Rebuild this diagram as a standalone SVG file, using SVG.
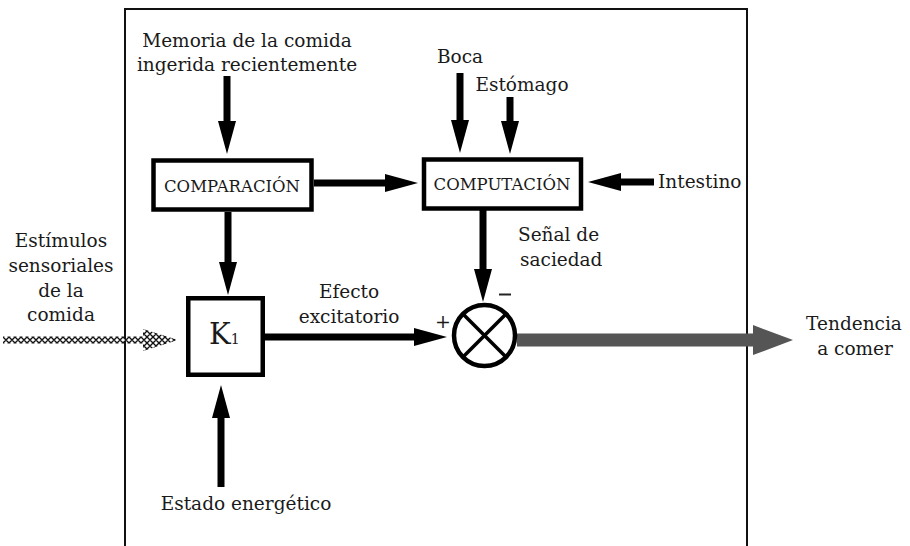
<svg xmlns="http://www.w3.org/2000/svg" width="910" height="546" viewBox="0 0 910 546">
<style>
text{font-family:"DejaVu Serif","Liberation Serif",serif;fill:#1a1a1a;font-size:18.5px}
.c{text-anchor:middle}
.box{fill:#fff;stroke:#000;stroke-width:4.5}
.caps{font-size:16.5px}
.arr{stroke:#000;stroke-width:7;fill:none;marker-end:url(#ah)}
</style>
<defs>
<marker id="ah" markerUnits="userSpaceOnUse" markerWidth="40" markerHeight="24" refX="0" refY="0" orient="auto" overflow="visible">
<path d="M0,-9 L33,0 L0,9 z" fill="#000"/>
</marker>
<marker id="gh" markerUnits="userSpaceOnUse" markerWidth="44" markerHeight="34" refX="0" refY="0" orient="auto" overflow="visible">
<path d="M0,-15 L40,0 L0,15 z" fill="#555"/>
</marker>
<pattern id="dia" patternUnits="userSpaceOnUse" x="0" y="337" width="6" height="6">
<path d="M3,0 L6,3 L3,6 L0,3 z" fill="#fff" stroke="#111" stroke-width="1.4"/>
</pattern>
</defs>
<rect x="0" y="0" width="910" height="546" fill="#fff"/>
<rect id="frame" x="125" y="9" width="622" height="570" fill="none" stroke="#111" stroke-width="2"/>

<g id="connectors">
<line class="arr" x1="227" y1="76" x2="227" y2="121"/>
<line class="arr" x1="460" y1="73" x2="460" y2="120"/>
<line class="arr" x1="510" y1="97" x2="510" y2="121"/>
<line class="arr" x1="314" y1="183" x2="385" y2="183"/>
<line class="arr" x1="654" y1="182" x2="621" y2="182"/>
<line class="arr" x1="228" y1="212" x2="228" y2="262"/>
<line class="arr" x1="483" y1="210" x2="483" y2="269"/>
<line class="arr" x1="265" y1="337" x2="414" y2="337"/>
<line class="arr" x1="221" y1="487" x2="221" y2="418"/>
<line x1="517" y1="340" x2="753" y2="340" stroke="#555" stroke-width="13" marker-end="url(#gh)"/>
<path d="M3,336.5 L143,336.5 L143,329 L178,340 L143,351 L143,343.5 L3,343.5 z" fill="url(#dia)"/>
</g>

<g id="memoria">
<text class="c" x="247" y="47">Memoria de la comida</text>
<text class="c" x="247" y="71">ingerida recientemente</text>
</g>
<g id="boca"><text class="c" x="460" y="63">Boca</text></g>
<g id="estomago"><text class="c" x="522" y="91">Estómago</text></g>
<g id="intestino"><text x="658" y="188">Intestino</text></g>

<g id="comparacion">
<rect class="box" x="153.5" y="160.5" width="158" height="49" stroke-width="5"/>
<text class="c caps" x="232" y="192">COMPARACIÓN</text>
</g>
<g id="computacion">
<rect class="box" x="424" y="159.5" width="157" height="49"/>
<text class="c caps" x="502" y="190">COMPUTACIÓN</text>
</g>

<g id="senal">
<text x="518" y="241">Señal de</text>
<text x="520" y="266">saciedad</text>
</g>

<g id="k1">
<rect class="box" x="188.25" y="298.25" width="74.5" height="76.5"/>
<text x="209" y="344" style="font-size:29px">K<tspan style="font-size:14px">1</tspan></text>
</g>

<g id="efecto">
<text class="c" x="349" y="298">Efecto</text>
<text class="c" x="349" y="323">excitatorio</text>
</g>

<g id="suma">
<circle cx="484.5" cy="335.5" r="30.5" fill="#fff" stroke="#000" stroke-width="4.5"/>
<line x1="463" y1="314" x2="506" y2="357" stroke="#000" stroke-width="3.5"/>
<line x1="506" y1="314" x2="463" y2="357" stroke="#000" stroke-width="3.5"/>
<text x="435" y="328" style="font-size:19px">+</text>
<line x1="499" y1="294.5" x2="511" y2="294.5" stroke="#222" stroke-width="2"/>
</g>

<g id="estimulos">
<text class="c" x="61" y="247">Estímulos</text>
<text class="c" x="61" y="272">sensoriales</text>
<text class="c" x="61" y="297">de la</text>
<text class="c" x="61" y="321">comida</text>
</g>

<g id="tendencia">
<text class="c" x="854" y="330">Tendencia</text>
<text class="c" x="855" y="355">a comer</text>
</g>

<g id="estado"><text class="c" x="246" y="510">Estado energético</text></g>
</svg>
